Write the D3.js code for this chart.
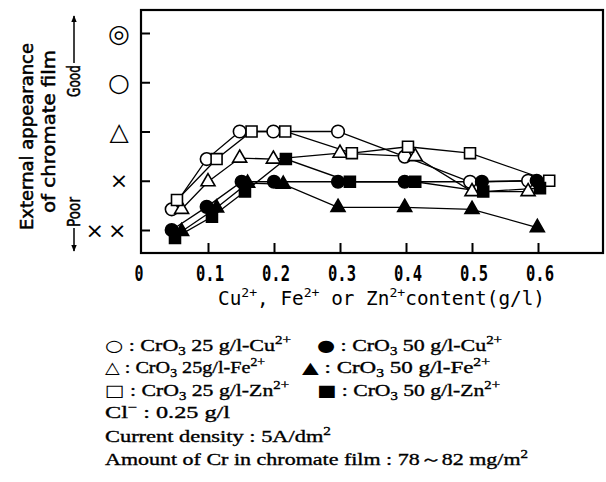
<!DOCTYPE html>
<meta charset="utf-8">
<style>
body { margin: 0; background: #fff; }
text { fill: #000; }
</style>
<svg></svg>
<script src="https://cdn.jsdelivr.net/npm/d3@7"></script>
<script>

var width = 606, height = 482;

// axis ticks
var xTicks = [0, 0.1, 0.2, 0.3, 0.4, 0.5, 0.6];
var yTicks = [1, 2, 3, 4, 5];
var yTickLabels = ["××", "×", "△", "○", "◎"];

// CrO3 25 g/l series (open marks)
var cu25x = [0.045, 0.098, 0.148, 0.199, 0.297, 0.398, 0.497, 0.585];
var cu25y = [1.42, 2.44, 3.0, 3.0, 3.0, 2.49, 1.98, 2.0];
var fe25x = [0.06, 0.1, 0.148, 0.199, 0.3, 0.414, 0.5, 0.585];
var fe25y = [1.42, 1.98, 2.46, 2.44, 2.56, 2.49, 1.78, 1.78];
var zn25x = [0.053, 0.113, 0.166, 0.217, 0.318, 0.403, 0.497, 0.617];
var zn25y = [1.61, 2.44, 3.0, 3.0, 2.56, 2.69, 2.56, 2.0];

// CrO3 50 g/l series (filled marks)
var cu50x = [0.045, 0.098, 0.151, 0.2, 0.297, 0.398, 0.515, 0.598];
var cu50y = [1.0, 1.47, 1.98, 1.98, 1.98, 1.98, 1.98, 2.0];
var fe50x = [0.06, 0.113, 0.16, 0.214, 0.297, 0.398, 0.5, 0.599];
var fe50y = [0.97, 1.45, 1.95, 1.93, 1.46, 1.46, 1.42, 1.05];
var zn50x = [0.05, 0.106, 0.156, 0.218, 0.315, 0.414, 0.517, 0.603];
var zn50y = [0.84, 1.27, 1.78, 2.44, 1.98, 1.98, 1.78, 1.85];

var series = [
  {xs: cu25x, ys: cu25y, shape: "circle", filled: false},
  {xs: fe25x, ys: fe25y, shape: "triangle", filled: false},
  {xs: zn25x, ys: zn25y, shape: "square", filled: false},
  {xs: cu50x, ys: cu50y, shape: "circle", filled: true},
  {xs: fe50x, ys: fe50y, shape: "triangle", filled: true},
  {xs: zn50x, ys: zn50y, shape: "square", filled: true}
];

// legend texts: [text, kind]
var legendLabels = [
  [["○", "sym"], [" : CrO"], ["3", "sub"], [" 25 g/l-Cu"], ["2+", "sup"]],
  [["●", "sym"], [" : CrO"], ["3", "sub"], [" 50 g/l-Cu"], ["2+", "sup"]],
  [["△", "sym"], [" : CrO"], ["3", "sub"], [" 25g/l-Fe"], ["2+", "sup"]],
  [["▲", "sym"], [" : CrO"], ["3", "sub"], [" 50 g/l-Fe"], ["2+", "sup"]],
  [["□", "sym"], [" : CrO"], ["3", "sub"], [" 25 g/l-Zn"], ["2+", "sup"]],
  [["■", "sym"], [" : CrO"], ["3", "sub"], [" 50 g/l-Zn"], ["2+", "sup"]]
];
var notes = [
  [["Cl"], ["−", "sup"], ["  : 0.25 g/l"]],
  [["Current density : 5A/dm"], ["2", "sup"]],
  [["Amount of Cr in chromate film : 78～82 mg/m"], ["2", "sup"]]
];
var xTitle = [["Cu"], ["2+", "sup"], [", Fe"], ["2+", "sup"], [" or Zn"], ["2+", "sup"], ["content(g/l)"]];

var svg = d3.select("svg")
    .attr("width", width)
    .attr("height", height);

var x = d3.scaleLinear().domain([0, 0.7]).range([142, 604]);
var y = d3.scaleLinear().domain([0.533, 5.467]).range([253, 10]);

var gothic = "'DejaVu Sans', sans-serif";
var mono = "'DejaVu Sans Mono', monospace";
var serif = "'Liberation Serif', 'Times New Roman', serif";

// rich text with sub / sup / symbol parts
function rich(sel, parts, size) {
  var cur = 0;
  parts.forEach(function(p) {
    var off = p[1] == "sub" ? size * 0.22 : p[1] == "sup" ? -size * 0.4 : 0;
    var t = sel.append("tspan").attr("dy", off - cur).text(p[0]);
    if (p[1] == "sub" || p[1] == "sup") t.attr("font-size", size * 0.68);
    if (p[1] == "sym") t.attr("font-family", gothic).attr("font-size", size * 0.95).attr("stroke-width", 0);
    cur = off;
  });
  return sel;
}

// ticks (inside)
svg.append("g")
    .attr("transform", "translate(141,0)")
    .call(d3.axisLeft(y).tickValues(yTicks).tickSize(-9).tickFormat(""))
    .call(function(g) { g.select(".domain").remove(); })
    .selectAll("line").attr("stroke-width", 2);

svg.append("g")
    .attr("transform", "translate(0,253)")
    .call(d3.axisBottom(x).tickValues(xTicks.slice(1)).tickSize(-10).tickFormat(""))
    .call(function(g) { g.select(".domain").remove(); })
    .selectAll("line").attr("stroke-width", 2);

// frame
svg.append("rect")
    .attr("x", 141).attr("y", 10)
    .attr("width", 462).attr("height", 243)
    .attr("fill", "none").attr("stroke", "#000").attr("stroke-width", 2.2);

// y tick labels (appearance symbols)
svg.append("g").selectAll("text")
    .data(yTicks)
  .enter().append("text")
    .attr("x", function(d, i) { return i == 0 ? 108 : 119; })
    .attr("y", function(d) { return y(d); })
    .attr("dy", "0.35em")
    .attr("text-anchor", "middle")
    .attr("font-family", gothic)
    .attr("font-size", function(d, i) { return i < 2 ? 22 : 25; })
    .attr("letter-spacing", function(d, i) { return i == 0 ? 4 : 0; })
    .text(function(d, i) { return yTickLabels[i]; });

// x tick labels
svg.append("g").selectAll("text")
    .data(xTicks)
  .enter().append("text")
    .attr("x", function(d) { return x(d) + (d == 0 ? -3 : 2); })
    .attr("y", 281)
    .attr("text-anchor", "middle")
    .attr("font-family", mono)
    .attr("font-weight", "bold")
    .attr("font-size", 21)
    .attr("textLength", function(d) { return d == 0 ? 9 : 28; })
    .attr("lengthAdjust", "spacingAndGlyphs")
    .text(function(d) { return d == 0 ? "0" : d3.format(".1f")(d); });

// x title
rich(svg.append("text")
    .attr("x", 218).attr("y", 305)
    .attr("font-family", mono)
    .attr("font-size", 19)
    .attr("textLength", 327)
    .attr("lengthAdjust", "spacingAndGlyphs"), xTitle, 19);

// y title
function yLabel(txt, tx, ty, len) {
  svg.append("text")
      .attr("transform", "translate(" + tx + "," + ty + ") rotate(-90)")
      .attr("text-anchor", "middle")
      .attr("font-family", gothic).attr("font-size", 17)
      .attr("stroke", "#000").attr("stroke-width", 0.5)
      .attr("textLength", len).attr("lengthAdjust", "spacingAndGlyphs")
      .text(txt);
}
yLabel("External appearance", 33, 136.5, 187);
yLabel("of chromate film", 55, 131.5, 163);
yLabel("Poor", 80, 212, 30);
yLabel("Good", 80, 81, 32);

// arrows
var defs = svg.append("defs");
defs.append("marker")
    .attr("id", "head").attr("viewBox", "0 0 10 10")
    .attr("refX", 9).attr("refY", 5)
    .attr("markerWidth", 7).attr("markerHeight", 7)
    .attr("markerUnits", "userSpaceOnUse")
    .attr("orient", "auto")
  .append("path").attr("d", "M0,1L10,5L0,9Z").attr("fill", "#000");
svg.append("line")
    .attr("x1", 74).attr("y1", 228).attr("x2", 74).attr("y2", 251)
    .attr("stroke", "#000").attr("stroke-width", 1.5).attr("marker-end", "url(#head)");
svg.append("line")
    .attr("x1", 74).attr("y1", 63).attr("x2", 74).attr("y2", 16)
    .attr("stroke", "#000").attr("stroke-width", 1.5).attr("marker-end", "url(#head)");

// series lines
var line = d3.line()
    .x(function(d) { return x(d[0]); })
    .y(function(d) { return y(d[1]); });

svg.append("g").selectAll("path")
    .data(series)
  .enter().append("path")
    .attr("d", function(s) { return line(d3.zip(s.xs, s.ys)); })
    .attr("fill", "none")
    .attr("stroke", "#000")
    .attr("stroke-width", 1.3);

// markers
var symbolType = {circle: d3.symbolCircle, triangle: d3.symbolTriangle, square: d3.symbolSquare};
var symbolSize = {circle: 125, triangle: 85, square: 120};

series.forEach(function(s) {
  svg.append("g").selectAll("path")
      .data(d3.zip(s.xs, s.ys))
    .enter().append("path")
      .attr("transform", function(d) { return "translate(" + x(d[0]) + "," + y(d[1]) + ")"; })
      .attr("d", d3.symbol(symbolType[s.shape], symbolSize[s.shape]))
      .attr("fill", s.filled ? "#000" : "#fff")
      .attr("stroke", "#000")
      .attr("stroke-width", 1.6);
});

// legend
var rowY = [351, 373, 396];
var colX = [[105, 317], [105, 302], [105, 317]];
var colLen = [[186, 185], [160, 188], [184, 183]];
legendLabels.forEach(function(parts, i) {
  var row = Math.floor(i / 2), col = i % 2;
  rich(svg.append("text")
      .attr("x", colX[row][col])
      .attr("y", rowY[row])
      .attr("font-family", serif)
      .attr("font-size", 17)
      .attr("stroke", "#000").attr("stroke-width", 0.35)
      .attr("textLength", colLen[row][col])
      .attr("lengthAdjust", "spacingAndGlyphs"), parts, 17);
});
var noteY = [418, 442, 465];
var noteLen = [125, 226, 423];
notes.forEach(function(parts, i) {
  rich(svg.append("text")
      .attr("x", 105)
      .attr("y", noteY[i])
      .attr("font-family", serif)
      .attr("font-size", 17)
      .attr("stroke", "#000").attr("stroke-width", 0.35)
      .attr("textLength", noteLen[i])
      .attr("lengthAdjust", "spacingAndGlyphs"), parts, 17);
});

</script>
